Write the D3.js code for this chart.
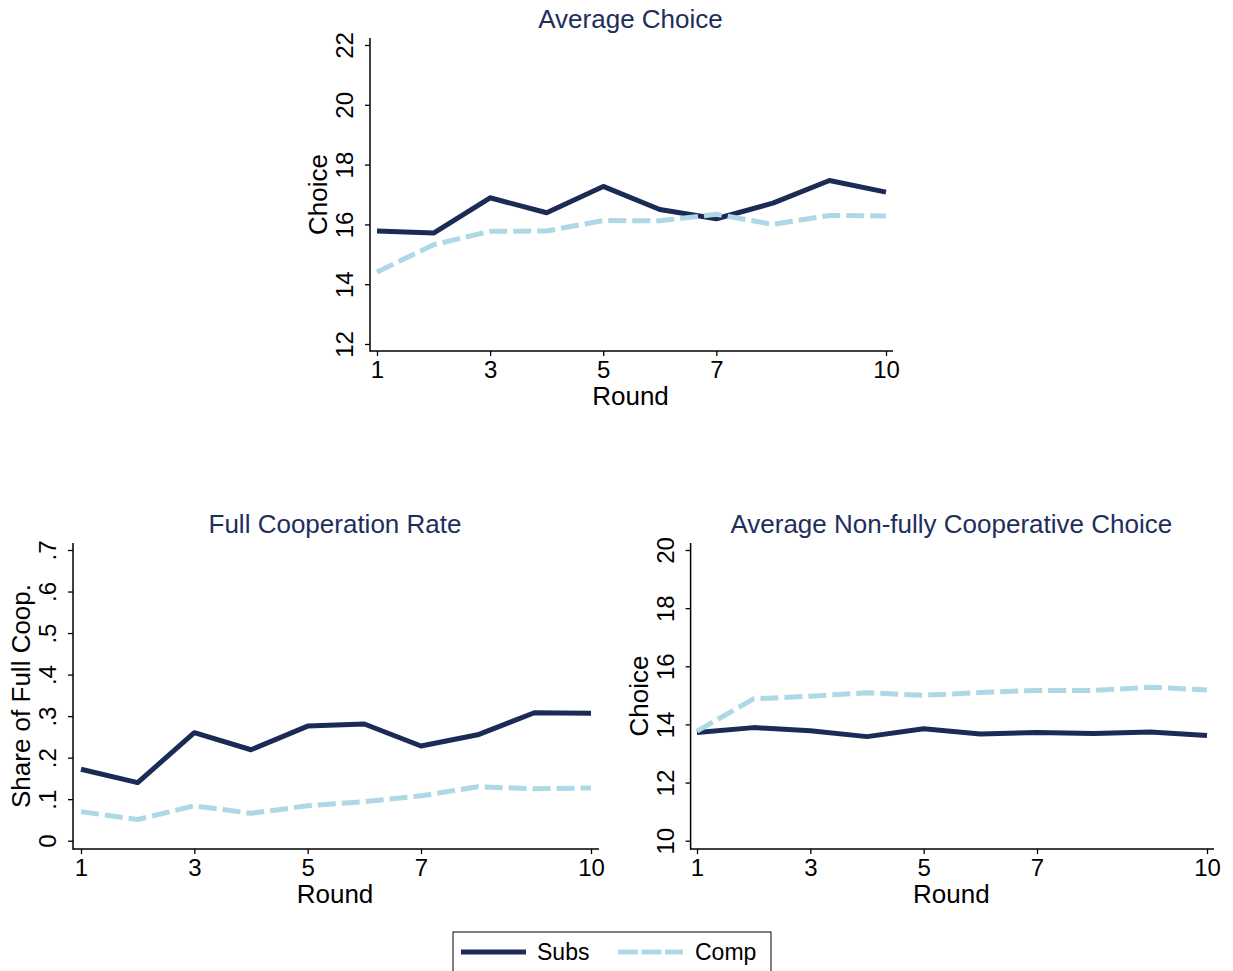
<!DOCTYPE html>
<html>
<head>
<meta charset="utf-8">
<script src="https://cdn.jsdelivr.net/npm/d3@7"></script>
<style>
  html, body { margin: 0; padding: 0; background: #fff; }
  svg { display: block; font-family: "Liberation Sans", Arial, Helvetica, sans-serif; }
</style>
</head>
<body>
<svg id="chart" width="1233" height="971"></svg>
<script>
// Rounds of play
const rounds = [1, 2, 3, 4, 5, 6, 7, 8, 9, 10];
const roundTicks = [1, 3, 5, 7, 10];

// Average choice per round
const avgChoiceSubs = [15.78, 15.71, 16.89, 16.39, 17.27, 16.50, 16.19, 16.71, 17.47, 17.08];
const avgChoiceComp = [14.41, 15.32, 15.77, 15.78, 16.13, 16.12, 16.34, 16.00, 16.30, 16.28];
const avgChoiceTicks = [12, 14, 16, 18, 20, 22];

// Share of fully cooperative choices per round
const coopRateSubs = [0.172, 0.140, 0.260, 0.219, 0.276, 0.281, 0.228, 0.255, 0.308, 0.307];
const coopRateComp = [0.070, 0.051, 0.084, 0.066, 0.084, 0.094, 0.108, 0.130, 0.125, 0.127];
const coopRateTicks = [0, 0.1, 0.2, 0.3, 0.4, 0.5, 0.6, 0.7];

// Average choice among non-fully cooperative choices per round
const nonCoopSubs = [13.72, 13.89, 13.78, 13.58, 13.85, 13.67, 13.72, 13.69, 13.74, 13.62];
const nonCoopComp = [13.77, 14.88, 14.97, 15.09, 15.00, 15.10, 15.17, 15.17, 15.28, 15.18];
const nonCoopTicks = [10, 12, 14, 16, 18, 20];

const seriesNames = ["Subs", "Comp"];

const NAVY = "#1c2b55";
const LIGHT = "#add8e6";
const TITLE = "#1e2e5c";

const svg = d3.select("#chart");

// Panel layout: frame (axis spines) plus the pixel span of the tick domain
const panels = [
  {
    title: "Average Choice", ytitle: "Choice",
    frame: { left: 370, right: 893, top: 38, bottom: 351 },
    xRange: [377, 886], yRange: [344, 45],
    yTicks: avgChoiceTicks, yFmt: d => String(d),
    series: [avgChoiceSubs, avgChoiceComp]
  },
  {
    title: "Full Cooperation Rate", ytitle: "Share of Full Coop.",
    frame: { left: 73, right: 599, top: 543, bottom: 849 },
    xRange: [81, 591], yRange: [840.7, 550],
    yTicks: coopRateTicks, yFmt: d => d === 0 ? "0" : d3.format(".1f")(d).replace(/^0/, ""),
    series: [coopRateSubs, coopRateComp]
  },
  {
    title: "Average Non-fully Cooperative Choice", ytitle: "Choice",
    frame: { left: 690.6, right: 1214, top: 543, bottom: 849 },
    xRange: [697, 1207], yRange: [840.7, 550],
    yTicks: nonCoopTicks, yFmt: d => String(d),
    series: [nonCoopSubs, nonCoopComp]
  }
];

const styles = [
  { color: NAVY, dash: null },
  { color: LIGHT, dash: "18,6" }
];

panels.forEach(p => {
  const f = p.frame;
  const x = d3.scaleLinear().domain([1, 10]).range(p.xRange);
  const y = d3.scaleLinear().domain([p.yTicks[0], p.yTicks[p.yTicks.length - 1]]).range(p.yRange);
  const g = svg.append("g");

  // Title
  g.append("text")
    .attr("x", (f.left + f.right) / 2 - 1)
    .attr("y", f.top - 10)
    .attr("text-anchor", "middle")
    .attr("font-size", 26)
    .attr("fill", TITLE)
    .text(p.title);

  // Y axis
  const yAxis = d3.axisLeft(y).tickValues(p.yTicks).tickFormat(p.yFmt)
    .tickSize(5).tickSizeOuter(0);
  const ya = g.append("g").attr("transform", `translate(${f.left},0)`).call(yAxis);
  ya.select(".domain").remove();
  ya.selectAll(".tick line").attr("stroke", "#000").attr("stroke-width", 1.3);
  ya.selectAll(".tick text")
    .attr("transform", "rotate(-90)")
    .attr("x", 0).attr("y", -17).attr("dy", 0)
    .attr("text-anchor", "middle")
    .attr("font-size", 24)
    .attr("font-family", null)
    .attr("fill", "#000");

  // X axis
  const xAxis = d3.axisBottom(x).tickValues(roundTicks).tickFormat(d3.format("d"))
    .tickSize(5).tickSizeOuter(0);
  const xa = g.append("g").attr("transform", `translate(0,${f.bottom})`).call(xAxis);
  xa.select(".domain").remove();
  xa.selectAll(".tick line").attr("stroke", "#000").attr("stroke-width", 1.3);
  xa.selectAll(".tick text")
    .attr("y", 27).attr("dy", 0)
    .attr("font-size", 24)
    .attr("font-family", null)
    .attr("fill", "#000");

  // Spines
  g.append("line").attr("x1", f.left).attr("x2", f.left).attr("y1", f.top).attr("y2", f.bottom + 0.65)
    .attr("stroke", "#000").attr("stroke-width", 1.5);
  g.append("line").attr("x1", f.left).attr("x2", f.right).attr("y1", f.bottom).attr("y2", f.bottom)
    .attr("stroke", "#000").attr("stroke-width", 1.5);

  // Axis titles
  g.append("text")
    .attr("x", (f.left + f.right) / 2 - 1)
    .attr("y", f.bottom + 54)
    .attr("text-anchor", "middle")
    .attr("font-size", 26)
    .attr("fill", "#000")
    .text("Round");
  const yMid = (f.top + f.bottom) / 2;
  g.append("text")
    .attr("transform", `translate(${f.left - 43},${yMid}) rotate(-90)`)
    .attr("text-anchor", "middle")
    .attr("font-size", 26)
    .attr("fill", "#000")
    .text(p.ytitle);

  // Series lines
  const line = d3.line().x((d, i) => x(rounds[i])).y(d => y(d));
  p.series.forEach((vals, si) => {
    g.append("path")
      .datum(vals)
      .attr("d", line)
      .attr("fill", "none")
      .attr("stroke", styles[si].color)
      .attr("stroke-width", 5)
      .attr("stroke-dasharray", styles[si].dash)
      .attr("stroke-linejoin", "round");
  });
});

// Legend
const lg = svg.append("g");
lg.append("rect").attr("x", 453).attr("y", 932).attr("width", 318).attr("height", 60)
  .attr("fill", "#fff").attr("stroke", "#000").attr("stroke-width", 1);
const legendItems = [
  { name: seriesNames[0], x1: 461, x2: 526, tx: 537 },
  { name: seriesNames[1], x1: 618, x2: 683, tx: 695 }
];
legendItems.forEach((it, i) => {
  lg.append("line").attr("x1", it.x1).attr("x2", it.x2).attr("y1", 952).attr("y2", 952)
    .attr("stroke", styles[i].color).attr("stroke-width", 5)
    .attr("stroke-dasharray", i === 1 ? "20,3.5" : null);
  lg.append("text").attr("x", it.tx).attr("y", 960)
    .attr("font-size", 23).attr("fill", "#000").text(it.name);
});
</script>
</body>
</html>
